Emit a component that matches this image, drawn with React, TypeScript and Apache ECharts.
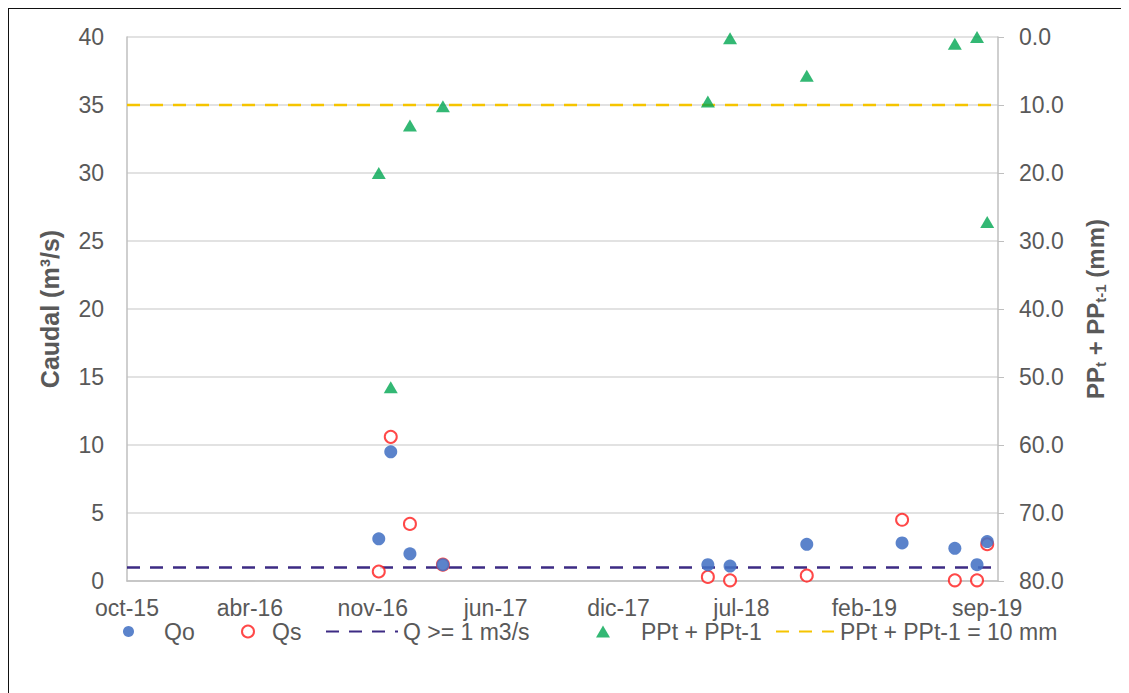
import React, { useEffect, useRef } from "react";
import * as echarts from "echarts";

// ---- data ----
const startDate = "2015-10-01";
const dates = [
  "2016-11-24", "2016-12-14", "2017-01-15", "2017-03-11", "2018-05-27", "2018-07-03",
  "2018-11-08", "2019-04-16", "2019-07-13", "2019-08-19", "2019-09-05",
];
const qo = [3.1, 9.5, 2.0, 1.2, 1.2, 1.1, 2.7, 2.8, 2.4, 1.2, 2.9];
const qs = [0.7, 10.6, 4.2, 1.2, 0.3, 0.05, 0.4, 4.5, 0.05, 0.05, 2.7];
const pp: (number | null)[] = [20.0, 51.5, 13.0, 10.2, 9.5, 0.2, 5.7, null, 1.0, 0.0, 27.2];
const qThreshold = 1;
const ppThreshold = 10;
const xMaxDays = 1453;
const xIntervalDays = 205;
const monthsEs = ["ene", "feb", "mar", "abr", "may", "jun", "jul", "ago", "sep", "oct", "nov", "dic"];

const DAY = 86400000;
const t0 = Date.parse(startDate);
const dayOf = (s: string) => (Date.parse(s) - t0) / DAY;
const fmtDate = (v: number) => {
  const d = new Date(t0 + v * DAY);
  return monthsEs[d.getUTCMonth()] + "-" + String(d.getUTCFullYear()).slice(2);
};

const GRAY = "#595959";
const FONT = "'Liberation Sans', Arial, sans-serif";
const HIDE_SYMBOL = { color: "rgba(0,0,0,0)", borderWidth: 0 };

export default function App() {
  const ref = useRef<HTMLDivElement>(null);
  useEffect(() => {
    if (!ref.current) return;
    const chart = echarts.init(ref.current, undefined, { renderer: "svg" });
    const legendText = (pad: number) => ({
      color: GRAY,
      fontSize: 23,
      fontFamily: FONT,
      padding: [0, 0, 0, pad],
    });
    const LT = 612;
    chart.setOption({
      animation: false,
      textStyle: { fontFamily: FONT },
      grid: { left: 119, right: 131, top: 29, bottom: 112 },
      xAxis: {
        type: "value",
        min: 0,
        max: xMaxDays,
        interval: xIntervalDays,
        axisLine: { show: true, lineStyle: { color: "#BFBFBF", width: 1.5 } },
        axisTick: { show: false },
        splitLine: { show: false },
        axisLabel: {
          formatter: fmtDate,
          color: GRAY,
          fontSize: 23,
          margin: 15,
          showMaxLabel: false,
        },
      },
      yAxis: [
        {
          type: "value",
          min: 0,
          max: 40,
          interval: 5,
          axisLine: { show: true, lineStyle: { color: "#BFBFBF", width: 1.5 } },
          axisTick: { show: false },
          splitLine: { show: true, lineStyle: { color: "#D9D9D9", width: 1.5 } },
          axisLabel: { color: GRAY, fontSize: 23, margin: 23 },
          name: "Caudal (m³/s)",
          nameLocation: "middle",
          nameRotate: 90,
          nameGap: 65,
          nameTextStyle: { color: GRAY, fontSize: 25, fontWeight: "bold" },
        },
        {
          type: "value",
          position: "right",
          inverse: true,
          min: 0,
          max: 80,
          interval: 10,
          axisLine: { show: true, lineStyle: { color: "#BFBFBF", width: 1.5 } },
          axisTick: { show: true, inside: false, length: 6, lineStyle: { color: "#BFBFBF" } },
          splitLine: { show: false },
          axisLabel: { color: GRAY, fontSize: 23, margin: 21, formatter: (v: number) => v.toFixed(1) },
          name: "{a|PP}{s|t}{a| + PP}{s|t-1}{a| (mm)}",
          nameLocation: "middle",
          nameRotate: 90,
          nameGap: 84,
          nameTextStyle: {
            rich: {
              a: { color: GRAY, fontSize: 24, fontWeight: "bold", fontFamily: FONT },
              s: { color: GRAY, fontSize: 15, fontWeight: "bold", fontFamily: FONT, verticalAlign: "bottom", padding: [11, 0, 0, 0] },
            },
          },
        },
      ],
      legend: [
        { left: 115, top: LT, padding: 0, data: ["Qo"], icon: "circle", itemWidth: 11, itemHeight: 11, textStyle: legendText(25) },
        { left: 233, top: LT, padding: 0, data: ["Qs"], itemWidth: 12, itemHeight: 12, textStyle: legendText(13) },
        { left: 317, top: LT, padding: 0, data: ["Q >= 1 m3/s"], itemWidth: 72, itemHeight: 12, itemStyle: HIDE_SYMBOL, textStyle: legendText(0) },
        { left: 588, top: LT, padding: 0, data: ["PPt + PPt-1"], icon: "triangle", itemWidth: 14, itemHeight: 12, textStyle: legendText(26) },
        { left: 767, top: LT, padding: 0, data: ["PPt + PPt-1 = 10 mm"], itemWidth: 58, itemHeight: 12, itemStyle: HIDE_SYMBOL, textStyle: legendText(1) },
      ],
      series: [
        {
          name: "Q >= 1 m3/s",
          type: "line",
          symbol: "none",
          data: [[0, qThreshold], [xMaxDays, qThreshold]],
          lineStyle: { color: "#3D2B84", width: 2.5, type: [13, 10] },
          itemStyle: { color: "#3D2B84" },
          z: 2,
        },
        {
          name: "PPt + PPt-1 = 10 mm",
          type: "line",
          yAxisIndex: 1,
          symbol: "none",
          data: [[0, ppThreshold], [xMaxDays, ppThreshold]],
          lineStyle: { color: "#F5C400", width: 2.5, type: [13, 10] },
          itemStyle: { color: "#F5C400" },
          z: 2,
        },
        {
          name: "Qs",
          type: "scatter",
          symbol: "emptyCircle",
          symbolSize: 12,
          data: dates.map((d, i) => [dayOf(d), qs[i]]),
          itemStyle: { color: "#FF1A1A", borderColor: "#FF1A1A", borderWidth: 2 },
          z: 3,
        },
        {
          name: "Qo",
          type: "scatter",
          symbol: "circle",
          symbolSize: 13,
          data: dates.map((d, i) => [dayOf(d), qo[i]]),
          itemStyle: { color: "#4472C4", opacity: 0.88 },
          z: 4,
        },
        {
          name: "PPt + PPt-1",
          type: "scatter",
          yAxisIndex: 1,
          symbol: "triangle",
          symbolSize: [14, 12],
          data: dates.map((d, i) => [dayOf(d), pp[i]]).filter((p) => p[1] !== null),
          itemStyle: { color: "#00A651" },
          z: 5,
        },
      ],
    });
    return () => chart.dispose();
  }, []);
  return (
    <div style={{ position: "relative" }}>
      <div ref={ref} style={{ width: 1121, height: 685 }} />
      <div
        style={{
          position: "absolute",
          left: -1,
          top: -1,
          width: 1130,
          height: 700,
          borderTop: "2px solid #111",
          borderLeft: "2px solid #111",
          pointerEvents: "none",
        }}
      />
    </div>
  );
}
